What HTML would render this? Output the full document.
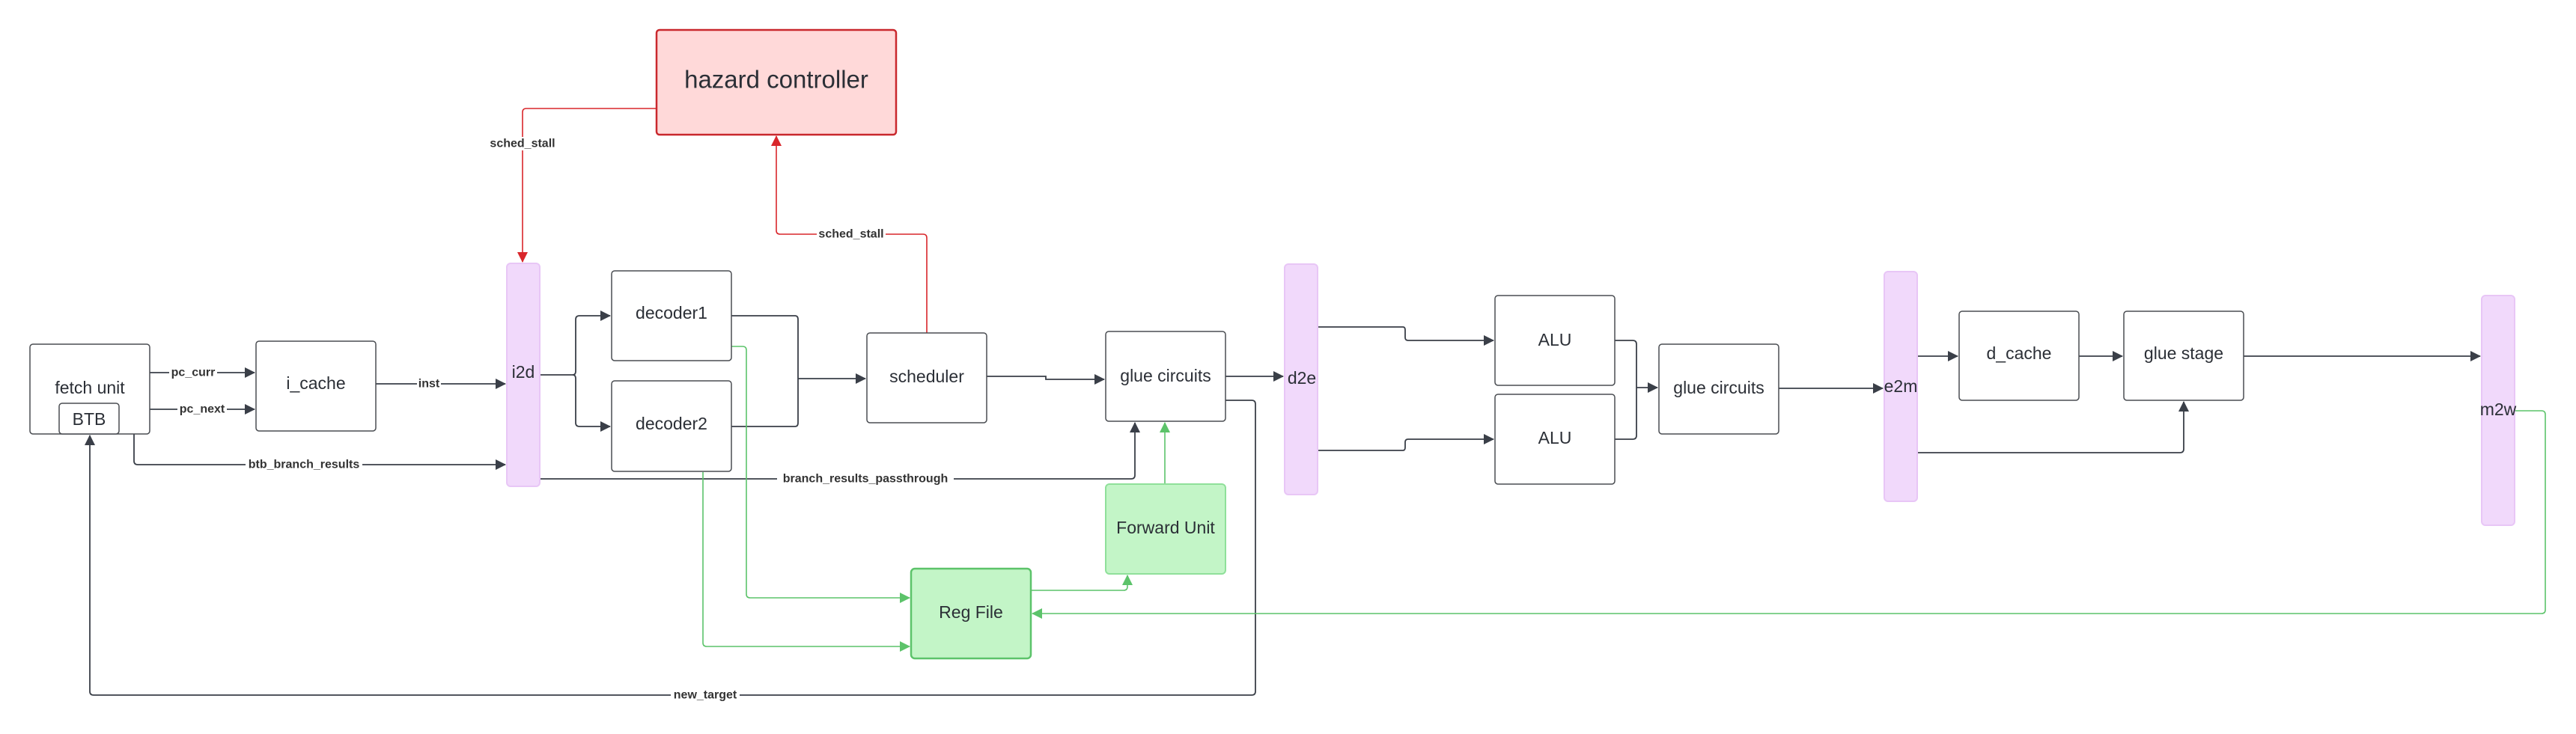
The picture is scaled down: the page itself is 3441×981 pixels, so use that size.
<!DOCTYPE html>
<html><head><meta charset="utf-8">
<style>
html,body{margin:0;padding:0;background:#fff;}
svg{display:block;}
text{font-family:"Liberation Sans",Arial,sans-serif;}
.bt{font-size:23px;fill:#2b2f36;text-anchor:middle;dominant-baseline:central;}
.lb{font-size:16px;font-weight:bold;fill:#333;text-anchor:middle;dominant-baseline:central;}
.ln{fill:none;stroke:#3a3f48;stroke-width:1.8;}
.gn{fill:none;stroke:#5cc36a;stroke-width:1.6;}
.rd{fill:none;stroke:#d9262b;stroke-width:1.6;}
.box{fill:#fff;stroke:#4a4d52;stroke-width:1.5;}
.pk{fill:#f1d9fb;stroke:#e8c6f6;stroke-width:2;}
</style></head>
<body>
<svg width="3441" height="981" viewBox="0 0 3441 981" xmlns="http://www.w3.org/2000/svg">
<defs>
<marker id="a" markerWidth="14" markerHeight="14" refX="13" refY="7" orient="auto" markerUnits="userSpaceOnUse"><path d="M0,0 L14,7 L0,14 z" fill="#3a3f48"/></marker>
<marker id="g" markerWidth="14" markerHeight="14" refX="13" refY="7" orient="auto" markerUnits="userSpaceOnUse"><path d="M0,0 L14,7 L0,14 z" fill="#5cc36a"/></marker>
<marker id="r" markerWidth="14" markerHeight="14" refX="13" refY="7" orient="auto" markerUnits="userSpaceOnUse"><path d="M0,0 L14,7 L0,14 z" fill="#d9262b"/></marker>
</defs>

<path class="rd" d="M877,145 H703 Q698,145 698,150 V350" marker-end="url(#r)"/>
<path class="rd" d="M1238,445 V318 Q1238,313 1233,313 H1042 Q1037,313 1037,308 V182" marker-end="url(#r)"/>

<path class="ln" d="M200,498 H340" marker-end="url(#a)"/>
<path class="ln" d="M200,547 H340" marker-end="url(#a)"/>
<path class="ln" d="M502,513 H675" marker-end="url(#a)"/>
<path class="ln" d="M179,580 V616 Q179,621 184,621 H675" marker-end="url(#a)"/>
<path class="ln" d="M721,501 H765 Q769,501 769,496 V427 Q769,422 774,422 H815" marker-end="url(#a)"/>
<path class="ln" d="M765,501 Q769,501 769,506 V565 Q769,570 774,570 H815" marker-end="url(#a)"/>
<path class="ln" d="M977,422 H1062 Q1066,422 1066,427 V565 Q1066,570 1062,570 H977"/>
<path class="ln" d="M1066,506 H1156" marker-end="url(#a)"/>
<path class="ln" d="M1318,503 H1397 V507 H1475" marker-end="url(#a)"/>
<path class="ln" d="M721,640 H1511 Q1516,640 1516,635 V565" marker-end="url(#a)"/>
<path class="ln" d="M1637,503 H1714" marker-end="url(#a)"/>
<path class="ln" d="M1637,535 H1672 Q1677,535 1677,540 V924 Q1677,929 1672,929 H125 Q120,929 120,924 V582" marker-end="url(#a)"/>
<path class="ln" d="M1760,437 H1874 Q1877,437 1877,441 V451 Q1877,455 1881,455 H1995" marker-end="url(#a)"/>
<path class="ln" d="M1760,602 H1874 Q1877,602 1877,598 V591 Q1877,587 1881,587 H1995" marker-end="url(#a)"/>
<path class="ln" d="M2157,455 H2181 Q2186,455 2186,460 V582 Q2186,587 2181,587 H2157"/>
<path class="ln" d="M2186,518 H2214" marker-end="url(#a)"/>
<path class="ln" d="M2376,519 H2515" marker-end="url(#a)"/>
<path class="ln" d="M2561,476 H2615" marker-end="url(#a)"/>
<path class="ln" d="M2777,476 H2835" marker-end="url(#a)"/>
<path class="ln" d="M2997,476 H3313" marker-end="url(#a)"/>
<path class="ln" d="M2561,605 H2912 Q2917,605 2917,600 V537" marker-end="url(#a)"/>

<path class="gn" d="M977,463 H992 Q997,463 997,468 V794 Q997,799 1002,799 H1215" marker-end="url(#g)"/>
<path class="gn" d="M939,631 V859 Q939,864 944,864 H1215" marker-end="url(#g)"/>
<path class="gn" d="M1377,789 H1501 Q1506,789 1506,784 V769" marker-end="url(#g)"/>
<path class="gn" d="M1556,647 V565" marker-end="url(#g)"/>
<path class="gn" d="M3359,549 H3395 Q3400,549 3400,554 V815 Q3400,820 3395,820 H1379" marker-end="url(#g)"/>

<rect x="226" y="489" width="64" height="18" fill="#fff"/><text class="lb" x="258" y="498">pc_curr</text>
<rect x="237" y="538" width="66" height="18" fill="#fff"/><text class="lb" x="270" y="547">pc_next</text>
<rect x="557" y="504" width="32" height="18" fill="#fff"/><text class="lb" x="573" y="513">inst</text>
<rect x="328" y="612" width="156" height="18" fill="#fff"/><text class="lb" x="406" y="621">btb_branch_results</text>
<rect x="1038" y="631" width="236" height="18" fill="#fff"/><text class="lb" x="1156" y="640">branch_results_passthrough</text>
<rect x="896" y="920" width="92" height="18" fill="#fff"/><text class="lb" x="942" y="929">new_target</text>
<rect x="652" y="183" width="92" height="18" fill="#fff"/><text class="lb" x="698" y="192">sched_stall</text>
<rect x="1091" y="304" width="92" height="18" fill="#fff"/><text class="lb" x="1137" y="313">sched_stall</text>

<rect x="877" y="40" width="320" height="140" rx="4" fill="#ffd9d9" stroke="#c9282d" stroke-width="2.5"/>
<text class="bt" x="1037" y="106" style="font-size:33px">hazard controller</text>

<rect class="box" x="40" y="460" width="160" height="120" rx="4"/>
<text class="bt" x="120" y="518">fetch unit</text>
<rect class="box" x="79" y="539" width="80" height="41" rx="4"/>
<text class="bt" x="119" y="560">BTB</text>

<rect class="box" x="342" y="456" width="160" height="120" rx="4"/>
<text class="bt" x="422" y="512">i_cache</text>

<rect class="pk" x="677" y="352" width="44" height="298" rx="5"/>
<text class="bt" x="699" y="497">i2d</text>

<rect class="box" x="817" y="362" width="160" height="120" rx="4"/>
<text class="bt" x="897" y="418">decoder1</text>
<rect class="box" x="817" y="509" width="160" height="121" rx="4"/>
<text class="bt" x="897" y="566">decoder2</text>

<rect class="box" x="1158" y="445" width="160" height="120" rx="4"/>
<text class="bt" x="1238" y="503">scheduler</text>

<rect class="box" x="1477" y="443" width="160" height="120" rx="4"/>
<text class="bt" x="1557" y="502">glue circuits</text>

<rect x="1477" y="647" width="160" height="120" rx="5" fill="#c3f5c7" stroke="#8fe09a" stroke-width="2"/>
<text class="bt" x="1557" y="705">Forward Unit</text>

<rect x="1217" y="760" width="160" height="120" rx="5" fill="#c3f5c7" stroke="#5cc36a" stroke-width="2.5"/>
<text class="bt" x="1297" y="818">Reg File</text>

<rect class="pk" x="1716" y="353" width="44" height="308" rx="5"/>
<text class="bt" x="1739" y="505">d2e</text>

<rect class="box" x="1997" y="395" width="160" height="120" rx="4"/>
<text class="bt" x="2077" y="454">ALU</text>
<rect class="box" x="1997" y="527" width="160" height="120" rx="4"/>
<text class="bt" x="2077" y="585">ALU</text>

<rect class="box" x="2216" y="460" width="160" height="120" rx="4"/>
<text class="bt" x="2296" y="518">glue circuits</text>

<rect class="pk" x="2517" y="363" width="44" height="307" rx="5"/>
<text class="bt" x="2539" y="516">e2m</text>

<rect class="box" x="2617" y="416" width="160" height="119" rx="4"/>
<text class="bt" x="2697" y="472">d_cache</text>
<rect class="box" x="2837" y="416" width="160" height="119" rx="4"/>
<text class="bt" x="2917" y="472">glue stage</text>

<rect class="pk" x="3315" y="395" width="44" height="307" rx="5"/>
<text class="bt" x="3337" y="547">m2w</text>
</svg>
</body></html>
